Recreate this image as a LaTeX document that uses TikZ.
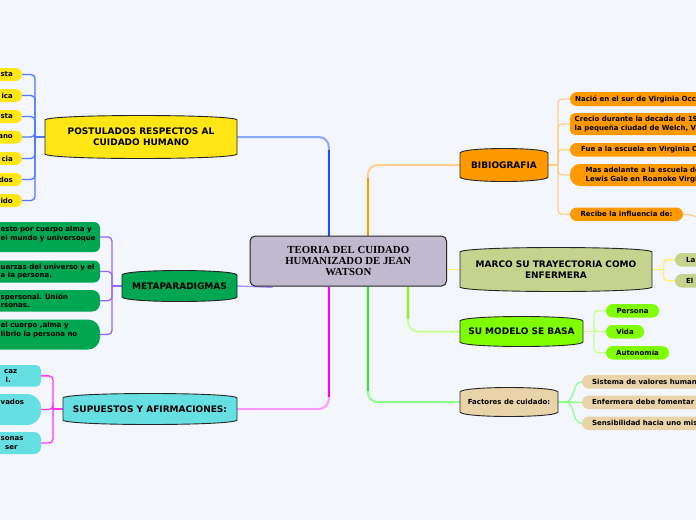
\documentclass[tikz,border=0pt]{standalone}
\usepackage{fontspec}
\setmainfont{DejaVu Sans}
\newfontfamily\serifb{Liberation Serif}
\usetikzlibrary{calc}
\pgfdeclarelayer{bg}\pgfdeclarelayer{conn}\pgfsetlayers{bg,conn,main}
\definecolor{bgc}{HTML}{F3F6FD}
\definecolor{cent}{HTML}{C1B9CE}
\definecolor{cYel}{HTML}{FFE614}
\definecolor{cMeta}{HTML}{00A651}
\definecolor{cSup}{HTML}{66DFE3}
\definecolor{cBib}{HTML}{FF9900}
\definecolor{cMarco}{HTML}{C5D38F}
\definecolor{cMod}{HTML}{80FF00}
\definecolor{cFac}{HTML}{E8D4A8}
\definecolor{lBlueD}{HTML}{1E50FF}
\definecolor{lBlueL}{HTML}{8CA8FF}
\definecolor{lBlueT}{HTML}{4E7BFF}
\definecolor{lOrD}{HTML}{FF9900}
\definecolor{lOrL}{HTML}{FFCF8A}
\definecolor{lYel}{HTML}{FFF45A}
\definecolor{lChD}{HTML}{80FF00}
\definecolor{lChL}{HTML}{C8FF90}
\definecolor{lGrD}{HTML}{22EE22}
\definecolor{lGrL}{HTML}{8CFF8C}
\definecolor{lMagD}{HTML}{FF00FF}
\definecolor{lMagL}{HTML}{FF99FF}
\definecolor{lMagT}{HTML}{FF33FF}
\definecolor{lPur}{HTML}{A98CFF}
\definecolor{lPurT}{HTML}{9966FF}
\newcommand\mainf{\bfseries\fontsize{9}{10.7}\selectfont}
\newcommand\leaff{\bfseries\fontsize{7}{8.4}\selectfont}
\newcommand\topic[8]{%
  \draw[topicline, fill=#6] (#2,#3+5) .. controls (#2+2,#3-1) and (#4-2,#3-1) .. (#4,#3+5)
     -- (#4,#5-5) .. controls (#4-2,#5+1) and (#2+2,#5+1) .. (#2,#5-5) -- cycle;
  \node[topictext, font=#7, minimum width={(#4)-(#2)}, minimum height={(#5)-(#3)}]
     (#1) at ({((#2)+(#4))/2},{((#3)+(#5))/2}) {#8};}
\newcommand\leaf[8]{%
  \node[leafbox, fill=#7, rounded corners=#6, minimum width={(#4)-(#2)}, minimum height={(#5)-(#3)}]
     (#1) at ({((#2)+(#4))/2},{((#3)+(#5))/2}) {#8};}
\tikzset{
  topicline/.style={draw=black!85, line width=0.9pt},
  topictext/.style={align=center, inner sep=0pt, text=black},
  leafbox/.style={draw=none, inner sep=0pt, font=\leaff, text=black, align=center},
  leaftext/.style={inner sep=0pt, font=\leaff, align=left, anchor=west, text=black},
  leaftextR/.style={inner sep=0pt, font=\leaff, align=right, anchor=east, text=black},
  trunk/.style={line width=1.3pt},
  maincon/.style={line width=2pt},
}
\begin{document}
\begin{tikzpicture}[x=1pt,y=-1pt]
\useasboundingbox (0,0) rectangle (696,520);
\begin{pgfonlayer}{bg}
\fill[bgc] (0,0) rectangle (696,520);
\end{pgfonlayer}

% central
\node[draw=black!85, line width=1pt, fill=cent, rounded corners=5pt, minimum width=196.5pt, minimum height=50pt,
  font=\serifb\bfseries\fontsize{10.8}{11}\selectfont, align=center, inner sep=0pt] (c) at (348.3,261)
  {TEORIA DEL CUIDADO\\HUMANIZADO DE JEAN\\WATSON};

% topics
\topic{post}{45}{115}{237}{159}{cYel}{\mainf}{POSTULADOS RESPECTOS AL\\CUIDADO HUMANO}
\topic{meta}{122}{270}{237}{302}{cMeta}{\mainf}{METAPARADIGMAS}
\topic{sup}{63}{393}{237}{425}{cSup}{\mainf}{SUPUESTOS Y AFIRMACIONES:}
\topic{bib}{460}{148}{548}{182}{cBib}{\mainf}{BIBIOGRAFIA}
\topic{marco}{460}{247}{652}{292}{cMarco}{\mainf}{MARCO SU TRAYECTORIA COMO\\ENFERMERA}
\topic{mod}{460}{316}{583}{347}{cMod}{\mainf}{SU MODELO SE BASA}
\topic{fac}{460}{387}{558}{417}{cFac}{\leaff}{Factores de cuidado:}

% postulados leaves
\leaf{p1}{-40}{68}{22}{81}{6.5pt}{cYel}{}
\leaf{p2}{-40}{89}{22}{102}{6.5pt}{cYel}{}
\leaf{p3}{-40}{110}{22}{123}{6.5pt}{cYel}{}
\leaf{p4}{-40}{130.5}{22}{143.5}{6.5pt}{cYel}{}
\leaf{p5}{-40}{152}{22}{165}{6.5pt}{cYel}{}
\leaf{p6}{-40}{173}{22}{186}{6.5pt}{cYel}{}
\leaf{p7}{-40}{194}{22}{207}{6.5pt}{cYel}{}
\node[leaftextR] (pt1) at (13,74.5) {sta};
\node[leaftextR] (pt2) at (13,95.5) {ica};
\node[leaftextR] (pt3) at (13,116.5) {sta};
\node[leaftextR] (pt4) at (13,137) {ano};
\node[leaftextR] (pt5) at (13,158.5) {cia};
\node[leaftextR] (pt6) at (13,179.5) {dos};
\node[leaftextR] (pt7) at (13,200.5) {ido};

% metaparadigmas leaves
\leaf{g1}{-40}{222}{100}{252}{6pt}{cMeta}{}
\leaf{g2}{-40}{260.5}{100}{282.5}{6pt}{cMeta}{}
\leaf{g3}{-40}{290}{100}{311.5}{8pt}{cMeta}{}
\leaf{g4}{-40}{319.5}{100}{349.5}{12pt}{cMeta}{}
\node[leaftext] (gt1) at (0.5,234) {esto por cuerpo alma y\\el mundo y universoque};
\node[leaftext] (gt2) at (0.5,271.5) {uerzas del universo y el\\a la persona.};
\node[leaftext] (gt3) at (0.5,300.7) {spersonal. Unión\\rsonas.};
\node[leaftext] (gt4) at (0.5,330) {el cuerpo ,alma y\\librio la persona no};

% supuestos leaves
\leaf{s1}{-40}{365}{41}{386.7}{5pt}{cSup}{}
\leaf{s2}{-40}{394}{41}{425}{14pt}{cSup}{}
\leaf{s3}{-40}{432}{41}{454}{7pt}{cSup}{}
\node[leaftext] (st1) at (4,376) {caz\\\hspace*{1.5pt}l.};
\node[leaftext] (st2) at (0.5,401.7) {vados};
\node[leaftext] (st3) at (0.5,443) {sonas\\\hspace*{4.5pt}ser};

% bibliografia leaves
\leaf{b1}{570}{92}{760}{106}{7pt}{cBib}{}
\leaf{b2}{570}{113}{760}{135}{5pt}{cBib}{}
\leaf{b3}{570}{143}{760}{156.5}{6.5pt}{cBib}{}
\leaf{b4}{570}{164}{760}{186}{10pt}{cBib}{}
\leaf{b5}{570}{207.5}{683}{221}{6.7pt}{cBib}{Recibe la influencia de:}
\node[leaftext] (bt1) at (575,99) {Nació en el sur de Virginia Occi};
\node[leaftext] (bt2) at (574.5,124) {Crecio durante la decada de 19\\la pequeña ciudad de Welch, Vi};
\node[leaftext] (bt3) at (581,149.8) {Fue a la escuela en Virginia O};
\node[leaftext] (bt4) at (585.5,175) {Mas adelante a la escuela de\\Lewis Gale en Roanoke Virgi};
\coordinate (bx) at (702,218);

% marco leaves
\leaf{m1}{675}{253}{760}{266.5}{6.7pt}{cMarco}{}
\leaf{m2}{675}{274}{760}{287.5}{6.7pt}{cMarco}{}
\node[leaftext] (mt1) at (686,259.8) {La};
\node[leaftext] (mt2) at (686,280.8) {El};

% modelo leaves
\leaf{d1}{606}{304}{659}{317.5}{6.7pt}{cMod}{Persona}
\leaf{d2}{606}{325}{644}{338.5}{6.7pt}{cMod}{Vida}
\leaf{d3}{606}{346}{669}{359.5}{6.7pt}{cMod}{Autonomía}

% factores leaves
\leaf{f1}{582}{375}{760}{388.5}{6.7pt}{cFac}{}
\leaf{f2}{582}{395.5}{760}{409}{6.7pt}{cFac}{}
\leaf{f3}{582}{416.5}{760}{430}{6.7pt}{cFac}{}
\node[leaftext] (ft1) at (592,381.8) {Sistema de valores human};
\node[leaftext] (ft2) at (592,402.3) {Enfermera debe fomentar};
\node[leaftext] (ft3) at (592,423.3) {Sensibilidad hacia uno mis};

% connectors
\begin{pgfonlayer}{conn}
% main branches
\draw[maincon, lBlueL, rounded corners=10pt] ([xshift=-19.5pt]c.north) |- (post.east);
\draw[maincon, lBlueD] ([xshift=-19.5pt]c.north) -- ++(0,-86);
\draw[maincon, lOrL, rounded corners=10pt] ([xshift=19.5pt]c.north) |- (bib.west);
\draw[maincon, lOrD] ([xshift=19.5pt]c.north) -- ++(0,-58);
\draw[line width=1.5pt, lYel] (c.east |- marco.west) -- (marco.west);
\draw[maincon, lChL, rounded corners=10pt] ([xshift=59.7pt]c.south) |- (mod.west);
\draw[maincon, lChD] ([xshift=59.7pt]c.south) -- ++(0,32);
\draw[maincon, lGrL, rounded corners=10pt] ([xshift=19.5pt]c.south) |- (fac.west);
\draw[maincon, lGrD] ([xshift=19.5pt]c.south) -- ++(0,104);
\draw[maincon, lMagL, rounded corners=10pt] ([xshift=-19.5pt]c.south) |- (sup.east);
\draw[maincon, lMagD] ([xshift=-19.5pt]c.south) -- ++(0,110);
\draw[line width=1.3pt, lPur] (meta.east) -- ([xshift=23pt,yshift=-0.8pt]c.south west);
% postulados
\coordinate (pj) at (35,137);
\draw[trunk, lBlueT] (post.west) -- (pj);
\foreach \i in {1,...,7} \draw[trunk, lBlueT, rounded corners=4pt] (pj) |- (p\i.east);
% meta
\coordinate (gj) at (112,286);
\draw[trunk, lPurT] (meta.west) -- (gj);
\foreach \i in {1,...,4} \draw[trunk, lPurT, rounded corners=4pt] (gj) |- (g\i.east);
% supuestos
\coordinate (sj) at (53,409);
\draw[trunk, lMagT] (sup.west) -- (sj);
\foreach \i in {1,...,3} \draw[trunk, lMagT, rounded corners=4pt] (sj) |- (s\i.east);
% bibliografia
\coordinate (bj) at (558,165);
\draw[trunk, lOrL] (bib.east) -- (bj);
\foreach \i in {1,...,5} \draw[trunk, lOrL, rounded corners=4pt] (bj) |- (b\i.west);
\draw[trunk, lOrL] (b5.east) to[out=0,in=170] (bx);
% marco
\coordinate (mj) at (663.5,269.5);
\draw[trunk, lYel] (marco.east) -- (mj);
\foreach \i in {1,2} \draw[trunk, lYel, rounded corners=4pt] (mj) |- (m\i.west);
% modelo
\coordinate (dj) at (594,331.5);
\draw[trunk, lChL] (mod.east) -- (dj);
\foreach \i in {1,...,3} \draw[trunk, lChL, rounded corners=4pt] (dj) |- (d\i.west);
% factores
\coordinate (fj) at (565,402);
\draw[trunk, lGrL] (fac.east) -- (fj);
\foreach \i in {1,...,3} \draw[trunk, lGrL] (fj) to[out=0,in=180] (f\i.west);
\end{pgfonlayer}
\end{tikzpicture}
\end{document}
